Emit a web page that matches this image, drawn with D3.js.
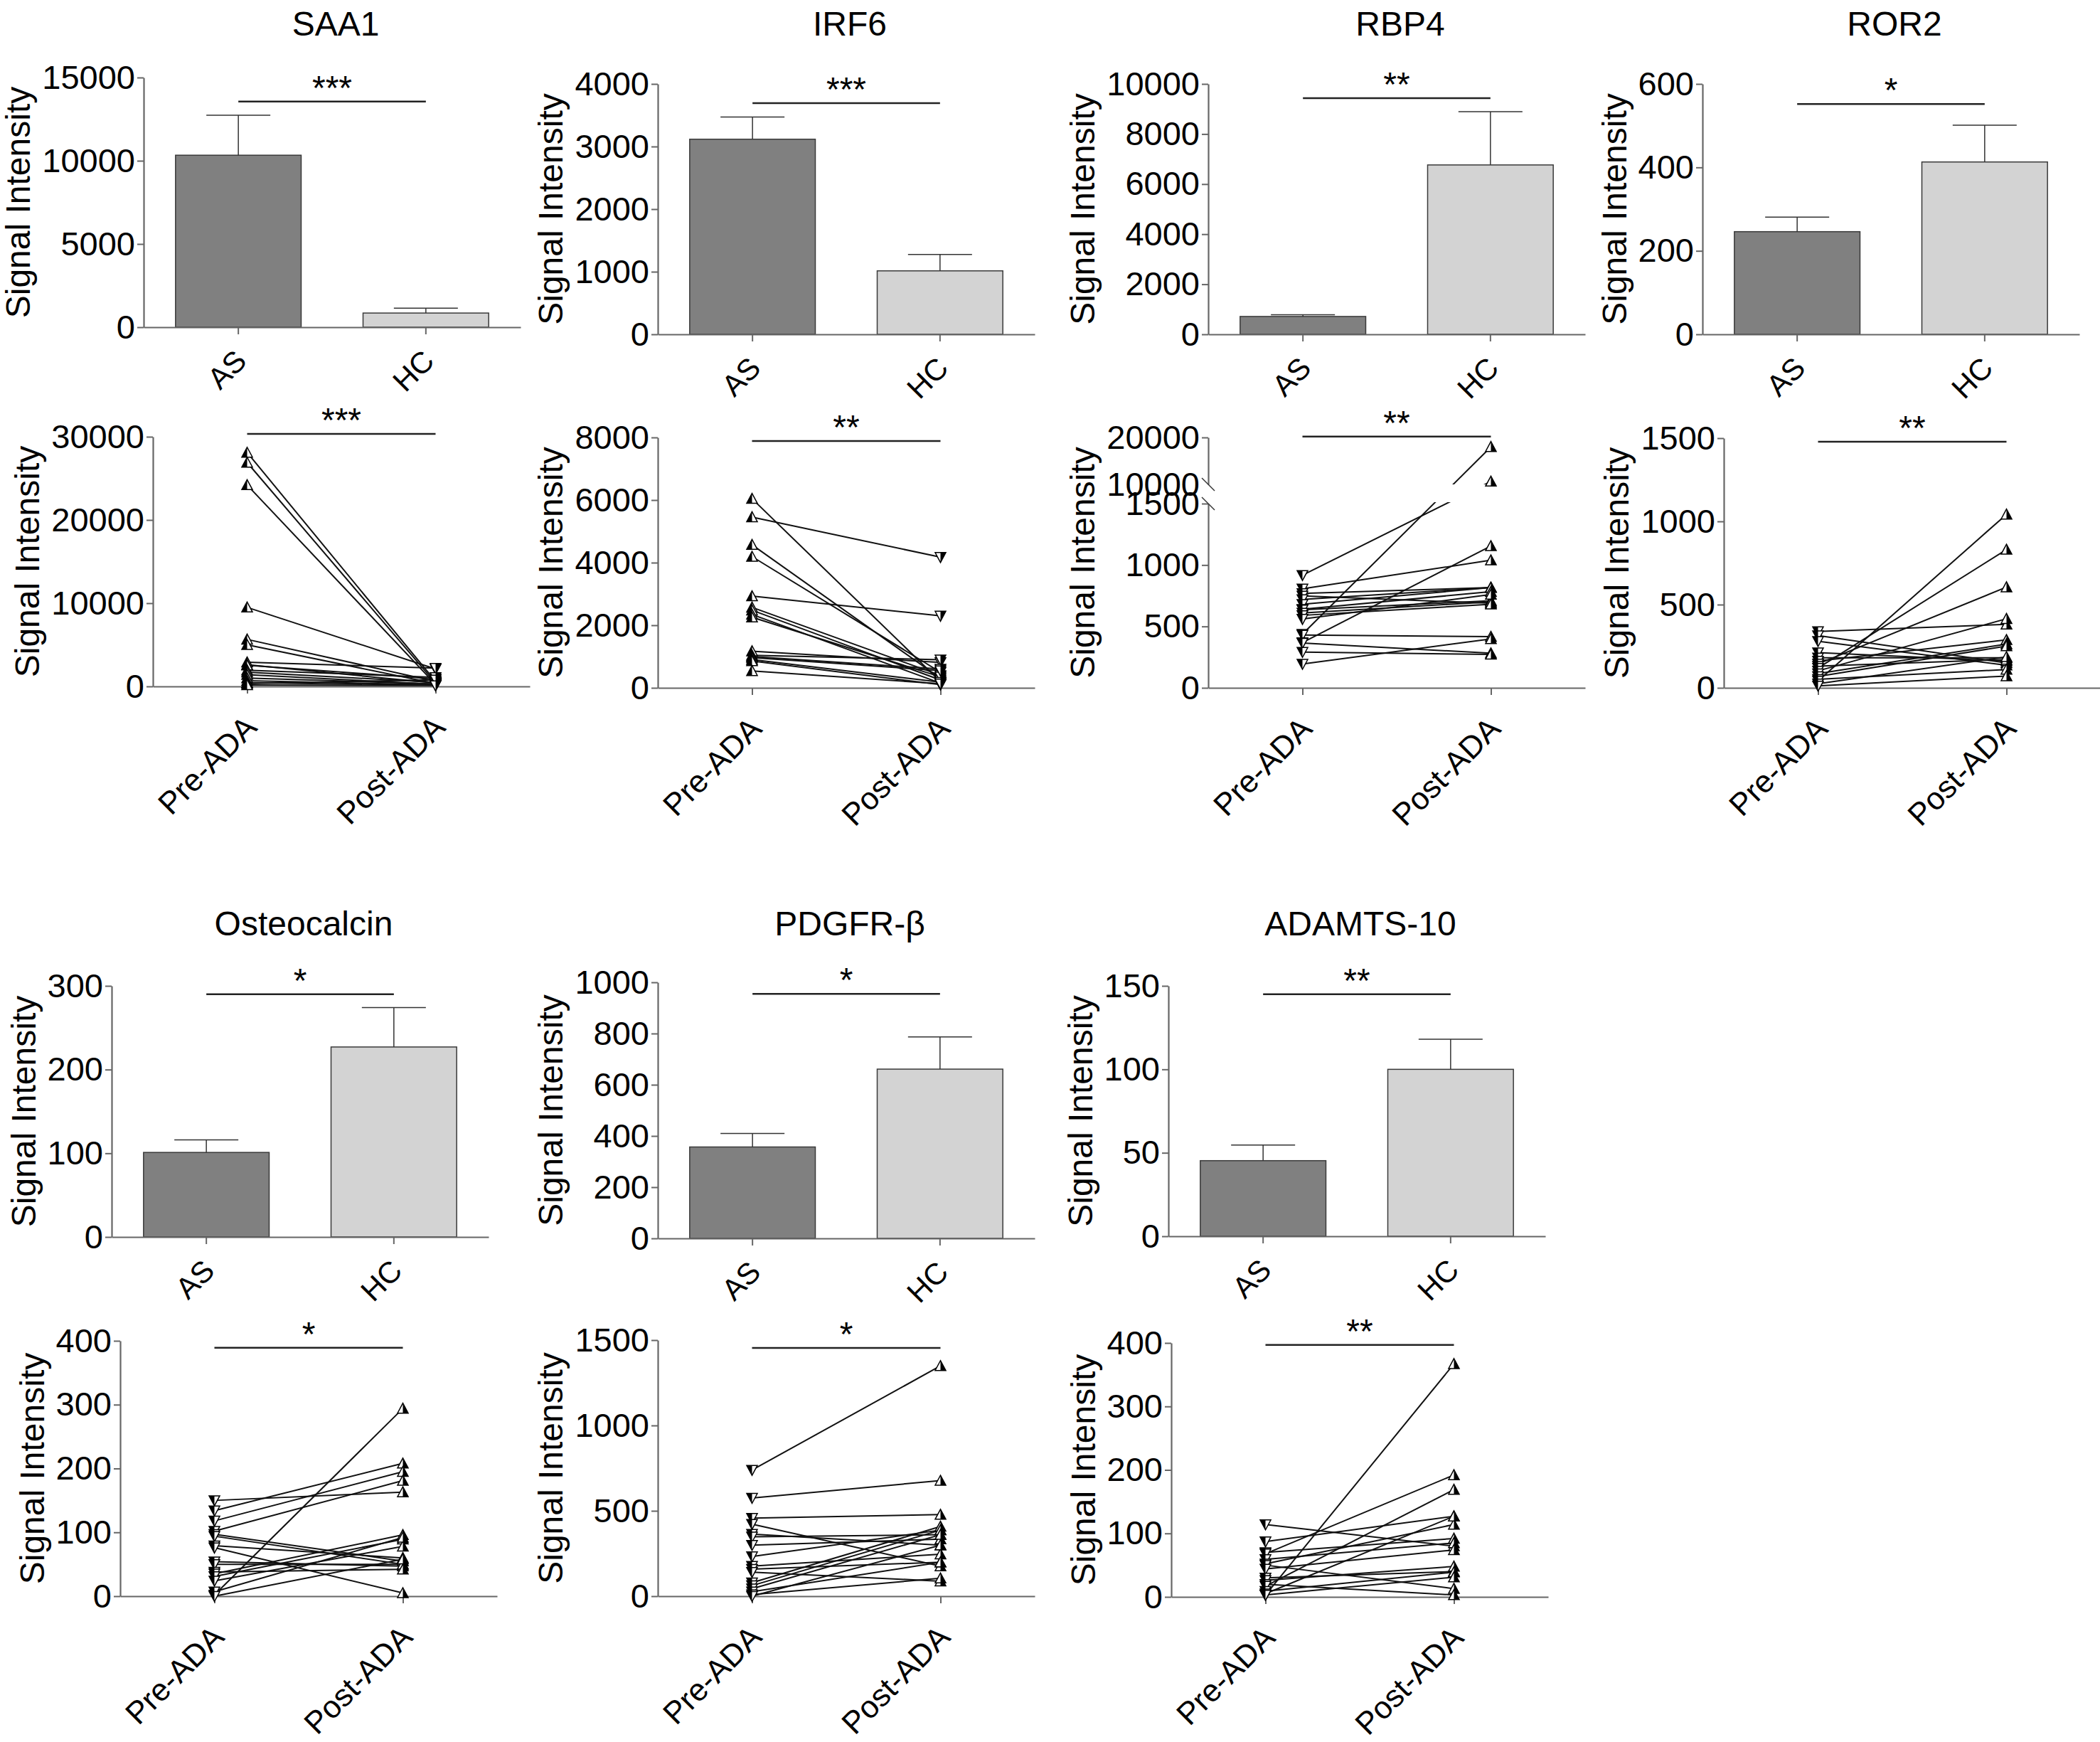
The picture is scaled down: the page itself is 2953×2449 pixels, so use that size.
<!DOCTYPE html>
<html>
<head>
<meta charset="utf-8">
<script src="https://cdn.jsdelivr.net/npm/d3@7"></script>
<style>
body { margin: 0; background: #fff; }
text { font-family: "Liberation Sans", Arial, sans-serif; fill: #000; }
</style>
</head>
<body>
<div id="chart"></div>
<script>
// ---- data ----
var genes = ["SAA1", "IRF6", "RBP4", "ROR2", "Osteocalcin", "PDGFR-β", "ADAMTS-10"];
var groups = ["AS", "HC"];
var timepoints = ["Pre-ADA", "Post-ADA"];

// bar charts: mean and top of the error bar, AS then HC
var barMeans = [[10333, 851], [3117, 1014], [713, 6765], [246, 413], [101, 227], [357, 661], [45.3, 100]];
var barErrTops = [[12740, 1146], [3471, 1276], [778, 8893], [281, 501], [116, 274], [410, 787], [54.7, 118]];
var barTicks = [
	[0, 5000, 10000, 15000],
	[0, 1000, 2000, 3000, 4000],
	[0, 2000, 4000, 6000, 8000, 10000],
	[0, 200, 400, 600],
	[0, 100, 200, 300],
	[0, 200, 400, 600, 800, 1000],
	[0, 50, 100, 150]
];
var barStars = ["***", "***", "**", "*", "*", "*", "**"];
var barStarLevel = [13555, 3693, 9430, 552, 290, 955, 145];

// paired plots: [pre, post] per patient
var saa1Pairs = [[28100, 600], [26900, 400], [24200, 250], [9500, 2100], [5650, 600], [5000, 350],
	[2900, 2200], [2600, 400], [2550, 900], [1950, 1100], [1700, 500], [1400, 250], [1000, 300],
	[680, 200], [450, 150], [350, 800], [170, 100]];
var irf6Pairs = [[6043, 200], [5456, 4175], [4572, 300], [4193, 500], [2931, 2300], [2570, 400],
	[2480, 250], [2345, 150], [2255, 350], [1172, 812], [1037, 900], [1000, 600], [965, 550],
	[902, 180], [857, 100], [541, 130]];
var rbp4Pairs = [[917, 10640], [806, 1039], [769, 816], [748, 689], [720, 816], [680, 816],
	[640, 783], [635, 709], [610, 700], [590, 680], [560, 760], [437, 18000], [430, 417],
	[369, 1155], [365, 282], [291, 272], [194, 398]];
var ror2Pairs = [[339, 381], [314, 150], [280, 136], [212, 161], [181, 181], [161, 288], [144, 605],
	[130, 170], [119, 831], [102, 415], [85, 263], [68, 251], [51, 110], [42, 1042], [25, 186], [12, 71]];
var osteoPairs = [[150, 163], [134, 208], [118, 195], [102, 181], [2, 294], [97, 55], [94, 50],
	[79, 60], [76, 5], [54, 47], [50, 50], [38, 42], [35, 96], [31, 89], [24, 78], [7, 92], [0, 58]];
var pdgfrPairs = [[739, 1349], [575, 677], [457, 478], [422, 176], [364, 299], [348, 360], [299, 334],
	[232, 387], [176, 246], [158, 199], [141, 88], [79, 408], [62, 387], [44, 360], [26, 199],
	[9, 105], [0, 299]];
var adamtsPairs = [[114, 80], [87, 127], [70, 92], [68, 192], [59, 85], [52, 114], [50, 13], [44, 74],
	[30, 40], [26, 48], [20, 3], [17, 169], [9, 39], [5, 127], [3, 367], [3, 31]];
var pairedData = [saa1Pairs, irf6Pairs, rbp4Pairs, ror2Pairs, osteoPairs, pdgfrPairs, adamtsPairs];

var pairedTicks = [
	[0, 10000, 20000, 30000],
	[0, 2000, 4000, 6000, 8000],
	[0, 500, 1000, 1500],
	[0, 500, 1000, 1500],
	[0, 100, 200, 300, 400],
	[0, 500, 1000, 1500],
	[0, 100, 200, 300, 400]
];
var rbp4UpperTicks = [10000, 20000];
var pairedStars = ["***", "**", "**", "**", "*", "*", "**"];
var pairedStarLevel = [30340, 7886, 20200, 1479, 389, 1454, 397];

// ---- layout ----
var W = 2953, H = 2449;
var barAxisX = [202, 925, 1699, 2394, 157, 925, 1643];
var pairAxisX = [215, 925, 1699, 2424, 169, 925, 1647];
var row = [0, 0, 0, 0, 1, 1, 1];
var barY = [[109, 460], [118, 470], [118, 470], [118, 470], [1386, 1739], [1381, 1741], [1386, 1738]];
var pairY = [[614, 965], [615, 967], [615, 967], [616, 967], [1885, 2244], [1884, 2244], [1888, 2245]];
var titleY = [50, 1315];
var plotW = 530;
// pre marker points down for the rising genes, up for the falling ones
var preDown = [false, false, true, true, true, true, true];

var svg = d3.select("#chart").append("svg")
	.attr("width", W)
	.attr("height", H);

svg.append("rect").attr("width", W).attr("height", H).attr("fill", "#fff");

function leftAxis(scale, ticks) {
	return d3.axisLeft(scale).tickValues(ticks).tickFormat(d3.format("d"))
		.tickSize(9).tickSizeOuter(0).tickPadding(3);
}

function styleAxis(g) {
	g.select(".domain").attr("stroke", "#666").attr("stroke-width", 2.2);
	g.selectAll(".tick line").attr("stroke", "#666").attr("stroke-width", 2);
	g.selectAll(".tick text").attr("font-size", 47).attr("font-family", "Liberation Sans, Arial, sans-serif");
}

function yLabel(g, axisG, x0, yMid) {
	var bb = axisG.node().getBBox();
	g.append("text")
		.attr("transform", "translate(" + (x0 + bb.x - 17) + "," + yMid + ") rotate(-90)")
		.attr("text-anchor", "middle")
		.attr("font-size", 48)
		.text("Signal Intensity");
}

function sigLine(g, x1, x2, y, stars) {
	g.append("line")
		.attr("x1", x1).attr("x2", x2)
		.attr("y1", y).attr("y2", y)
		.attr("stroke", "#222")
		.attr("stroke-width", 2.5);
	g.append("text")
		.attr("x", (x1 + x2) / 2)
		.attr("y", y - 3)
		.attr("text-anchor", "middle")
		.attr("font-size", 48)
		.text(stars);
}

function xLabels(g, x, names, y0, size, dx, dy) {
	names.forEach(function(name) {
		g.append("text")
			.attr("transform", "translate(" + (x(name) + dx) + "," + (y0 + dy) + ") rotate(-45)")
			.attr("text-anchor", "end")
			.attr("font-size", size)
			.text(name);
	});
}

function drawBar(i) {
	var x0 = barAxisX[i],
		yr = barY[i];
	var g = svg.append("g");

	var ticks = barTicks[i];
	var y = d3.scaleLinear().domain([0, ticks[ticks.length - 1]]).range([yr[1], yr[0]]);
	var x = d3.scaleBand().domain(groups).range([x0, x0 + plotW]).paddingInner(0.33).paddingOuter(0.17);

	var yAxis = g.append("g")
		.attr("transform", "translate(" + x0 + ",0)")
		.call(leftAxis(y, ticks));
	styleAxis(yAxis);

	// bars
	g.selectAll(".bar")
		.data(groups)
		.enter().append("rect")
		.attr("x", function(d) { return x(d); })
		.attr("y", function(d, j) { return y(barMeans[i][j]); })
		.attr("width", x.bandwidth())
		.attr("height", function(d, j) { return y(0) - y(barMeans[i][j]); })
		.attr("fill", function(d, j) { return j === 0 ? "#808080" : "#d3d3d3"; })
		.attr("stroke", "#3a3a3a")
		.attr("stroke-width", 1.5);

	// upper error bars
	groups.forEach(function(d, j) {
		var cx = x(d) + x.bandwidth() / 2;
		g.append("line")
			.attr("x1", cx).attr("x2", cx)
			.attr("y1", y(barMeans[i][j])).attr("y2", y(barErrTops[i][j]))
			.attr("stroke", "#333").attr("stroke-width", 1.5);
		g.append("line")
			.attr("x1", cx - 45).attr("x2", cx + 45)
			.attr("y1", y(barErrTops[i][j])).attr("y2", y(barErrTops[i][j]))
			.attr("stroke", "#333").attr("stroke-width", 1.5);
	});

	var xAxis = g.append("g")
		.attr("transform", "translate(0," + y(0) + ")")
		.call(d3.axisBottom(x).tickSize(10).tickSizeOuter(0).tickFormat(""));
	styleAxis(xAxis);
	xLabels(g, function(d) { return x(d) + x.bandwidth() / 2; }, groups, y(0), 42, 14, 50);

	yLabel(g, yAxis, x0, (yr[0] + yr[1]) / 2);

	sigLine(g, x(groups[0]) + x.bandwidth() / 2, x(groups[1]) + x.bandwidth() / 2, y(barStarLevel[i]), barStars[i]);

	g.append("text")
		.attr("x", x0 + 270)
		.attr("y", titleY[row[i]])
		.attr("text-anchor", "middle")
		.attr("font-size", 48)
		.text(genes[i]);
}

// triangle marker, left or right half filled black
function trianglePaths(cx, cy, down, leftHalf) {
	var s = 7.5, h = 6.5;
	var tipY = down ? cy + h + 1 : cy - h - 1,
		baseY = down ? cy - h : cy + h;
	var full = "M" + (cx - s) + "," + baseY + "L" + (cx + s) + "," + baseY + "L" + cx + "," + tipY + "Z";
	var half = leftHalf ?
		"M" + (cx - s) + "," + baseY + "L" + cx + "," + baseY + "L" + cx + "," + tipY + "Z" :
		"M" + cx + "," + baseY + "L" + (cx + s) + "," + baseY + "L" + cx + "," + tipY + "Z";
	return { full: full, half: half };
}

function drawPaired(i) {
	var x0 = pairAxisX[i],
		yr = pairY[i],
		pairs = pairedData[i];
	var g = svg.append("g");
	var ticks = pairedTicks[i];
	var broken = genes[i] === "RBP4";

	var y, yAxis;
	if (broken) {
		var gapBottom = 708, gapTop = 681;
		var yLow = d3.scaleLinear().domain([0, 1500]).range([yr[1], gapBottom]);
		var yUp = d3.scaleLinear().domain([10000, 20000]).range([gapTop, yr[0]]);
		y = function(v) { return v <= 1500 ? yLow(v) : yUp(v); };
		yAxis = g.append("g")
			.attr("transform", "translate(" + x0 + ",0)");
		var a1 = yAxis.append("g").call(leftAxis(yLow, ticks));
		var a2 = yAxis.append("g").call(leftAxis(yUp, rbp4UpperTicks));
		styleAxis(a1);
		styleAxis(a2);
		a2.selectAll(".tick").filter(function(d) { return d === 10000; }).select("line").remove();
		// break marks
		[gapTop, gapBottom].forEach(function(yy) {
			yAxis.append("line")
				.attr("x1", -9).attr("x2", 9)
				.attr("y1", yy - 9).attr("y2", yy + 9)
				.attr("stroke", "#333").attr("stroke-width", 1.5);
		});
	} else {
		y = d3.scaleLinear().domain([0, ticks[ticks.length - 1]]).range([yr[1], yr[0]]);
		yAxis = g.append("g")
			.attr("transform", "translate(" + x0 + ",0)")
			.call(leftAxis(y, ticks));
		styleAxis(yAxis);
	}

	var x = d3.scalePoint().domain(timepoints).range([x0, x0 + plotW]).padding(0.5);

	var xAxis = g.append("g")
		.attr("transform", "translate(0," + y(0) + ")")
		.call(d3.axisBottom(x).tickSize(10).tickSizeOuter(0).tickFormat(""));
	styleAxis(xAxis);
	xLabels(g, x, timepoints, y(0), 44, 16, 60);

	// connecting lines
	var lines = g.append("g");
	if (broken) {
		var clipId = "gapclip" + i;
		var cp = svg.append("defs").append("clipPath").attr("id", clipId);
		cp.append("rect").attr("x", 0).attr("y", 0).attr("width", W).attr("height", 681);
		cp.append("rect").attr("x", 0).attr("y", 706).attr("width", W).attr("height", H - 706);
		lines.attr("clip-path", "url(#" + clipId + ")");
	}
	lines.selectAll("line")
		.data(pairs)
		.enter().append("line")
		.attr("x1", x(timepoints[0]))
		.attr("x2", x(timepoints[1]))
		.attr("y1", function(d) { return y(d[0]); })
		.attr("y2", function(d) { return y(d[1]); })
		.attr("stroke", "#111")
		.attr("stroke-width", 2);

	// markers: pre left-half black, post right-half black
	pairs.forEach(function(d) {
		[0, 1].forEach(function(k) {
			var down = k === 0 ? preDown[i] : !preDown[i];
			var p = trianglePaths(x(timepoints[k]), y(d[k]), down, k === 0);
			g.append("path").attr("d", p.full).attr("fill", "#fff").attr("stroke", "#000").attr("stroke-width", 1.5);
			g.append("path").attr("d", p.half).attr("fill", "#000");
		});
	});

	yLabel(g, yAxis, x0, (yr[0] + yr[1]) / 2);

	sigLine(g, x(timepoints[0]), x(timepoints[1]), y(pairedStarLevel[i]), pairedStars[i]);
}

genes.forEach(function(gene, i) {
	drawBar(i);
	drawPaired(i);
});
</script>
</body>
</html>
